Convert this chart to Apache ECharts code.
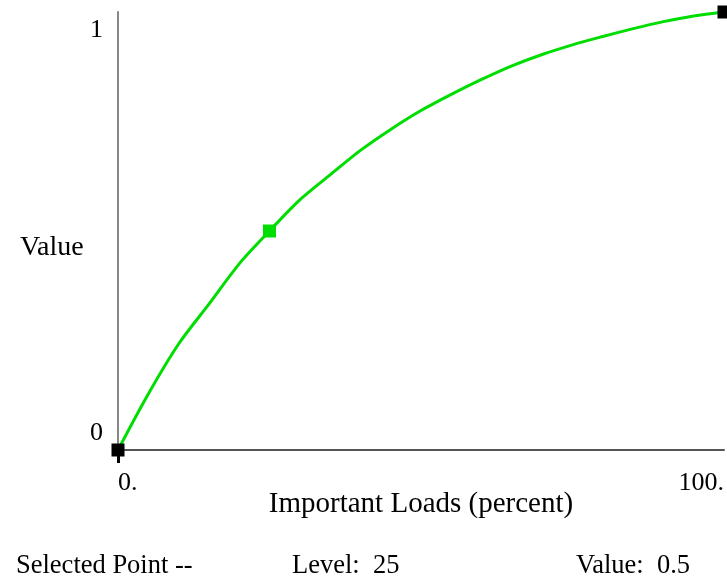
<!DOCTYPE html>
<html>
<head>
<meta charset="utf-8">
<script src="https://cdn.jsdelivr.net/npm/echarts@6/dist/echarts.min.js"></script>
<style>
html,body{margin:0;padding:0;background:#fff;}
#chart{width:727px;height:583px;}
</style>
</head>
<body>
<div id="chart"></div>
<script>
// Data
const levels = [0, 5, 10, 15, 20, 25, 30, 35, 40, 45, 50, 55, 60, 65, 70, 75, 80, 85, 90, 95, 100];
const values = [0, 0.128, 0.242, 0.333, 0.425, 0.5, 0.571, 0.628, 0.684, 0.732, 0.775, 0.812, 0.846, 0.877, 0.903, 0.925, 0.944, 0.962, 0.978, 0.991, 1];
const blackPoints = [0, 100];
const selectedLevel = 25;
const selectedValue = 0.5;
const xTitle = 'Important Loads (percent)';
const yTitle = 'Value';

const FONT = '"Liberation Serif", "Times New Roman", serif';

const seriesData = levels.map((lv, i) => {
  const item = { value: [lv, values[i]] };
  if (blackPoints.includes(lv)) {
    item.symbol = 'rect'; item.symbolSize = 13; item.itemStyle = { color: '#000' };
  } else if (lv === selectedLevel) {
    item.symbol = 'rect'; item.symbolSize = 13; item.itemStyle = { color: '#00dd00' };
  }
  return item;
});

const chart = echarts.init(document.getElementById('chart'), null, { renderer: 'canvas' });
chart.setOption({
  animation: false,
  backgroundColor: '#fff',
  grid: { left: 118, right: 3, top: 12, bottom: 133 },
  xAxis: {
    type: 'value', min: 0, max: 100, interval: 100,
    name: xTitle, nameLocation: 'middle', nameGap: 40, nameMoveOverlap: false,
    nameTextStyle: { fontFamily: FONT, fontSize: 29, color: '#000', verticalAlign: 'top' },
    axisLine: { show: true, onZero: false, lineStyle: { color: '#555', width: 2 } },
    axisTick: { show: true, customValues: [0], length: 13, lineStyle: { color: '#000', width: 3 } },
    axisLabel: {
      fontFamily: FONT, fontSize: 26, color: '#000', margin: 20,
      alignMinLabel: 'left', alignMaxLabel: 'right',
      formatter: v => v + '.'
    },
    splitLine: { show: false }
  },
  yAxis: {
    type: 'value', min: 0, max: 1, interval: 1,
    axisLine: { show: true, lineStyle: { color: '#888', width: 2 } },
    axisTick: { show: false },
    axisLabel: {
      fontFamily: FONT, fontSize: 26, color: '#000', margin: 15,
      padding: [5, 0, 4, 0],
      verticalAlignMinLabel: 'bottom', verticalAlignMaxLabel: 'top'
    },
    splitLine: { show: false }
  },
  graphic: [
    { type: 'text', left: 20, top: 234, style: { text: yTitle, font: '28px ' + FONT, fill: '#000' } },
    { type: 'text', left: 16, top: 553, style: { text: 'Selected Point --', font: '26.5px ' + FONT, fill: '#000' } },
    { type: 'text', left: 292, top: 553, style: { text: 'Level:  ' + selectedLevel, font: '26.5px ' + FONT, fill: '#000' } },
    { type: 'text', left: 576, top: 553, style: { text: 'Value:  ' + selectedValue, font: '26.5px ' + FONT, fill: '#000' } }
  ],
  series: [{
    type: 'line',
    data: seriesData,
    smooth: 0.3,
    symbol: 'none',
    clip: false,
    lineStyle: { color: '#00dd00', width: 3 },
    itemStyle: { color: '#00dd00' }
  }]
});
</script>
</body>
</html>
